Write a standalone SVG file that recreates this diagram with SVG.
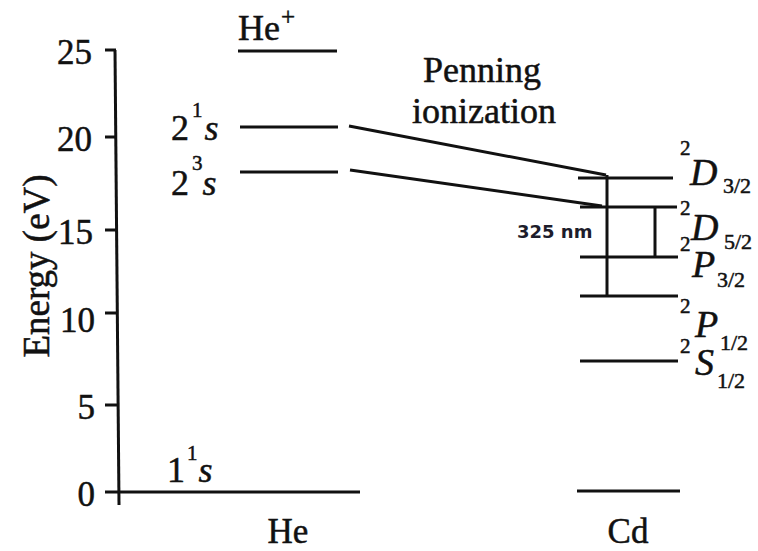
<svg xmlns="http://www.w3.org/2000/svg" width="758" height="551" viewBox="0 0 758 551">
<style>
.ln{stroke:#111;stroke-width:3;fill:none;stroke-linecap:butt}
.tx{font-family:'Liberation Serif','Times New Roman',Times,serif;fill:#111;stroke:#111;stroke-width:0.5}
.big{font-size:36px}
.cd{font-size:38px}
.it{font-style:italic}
.sup{font-size:21px}
.sub{font-size:22px}
.tick{font-size:35px;text-anchor:end}
.nm{font-family:'DejaVu Sans',sans-serif;font-size:18px;font-weight:bold;fill:#1d1d2b}
</style>
<rect width="758" height="551" fill="#fff"/>
<g id="axis">
<line class="ln" x1="115" y1="50" x2="119" y2="505"/>
<line class="ln" x1="105" y1="50" x2="116" y2="50"/>
<line class="ln" x1="105" y1="137" x2="116" y2="137"/>
<line class="ln" x1="105" y1="230" x2="117" y2="230"/>
<line class="ln" x1="105" y1="313" x2="117" y2="313"/>
<line class="ln" x1="105" y1="405" x2="118" y2="405"/>
<text class="tx tick" x="92" y="64">25</text>
<text class="tx tick" x="92" y="151">20</text>
<text class="tx tick" x="93" y="244">15</text>
<text class="tx tick" x="95" y="332">10</text>
<text class="tx tick" x="95" y="419">5</text>
<text class="tx tick" x="95" y="506">0</text>
<text class="tx" font-size="37" text-anchor="middle" transform="translate(49,266) rotate(-90)">Energy (eV)</text>
</g>
<g id="he-ground">
<line class="ln" x1="105" y1="492" x2="360" y2="492"/>
<text class="tx big" x="167" y="482">1<tspan class="sup" dx="2" dy="-22">1</tspan><tspan class="it" dx="1" dy="22">s</tspan></text>
</g>
<g id="he-ion">
<line class="ln" x1="238" y1="51" x2="337" y2="51"/>
<text class="tx big" x="238" y="40">He<tspan font-size="25" dx="1" dy="-15">+</tspan></text>
</g>
<g id="he-21s">
<line class="ln" x1="240" y1="127" x2="338" y2="127"/>
<text class="tx big" x="171" y="140">2<tspan class="sup" dx="3" dy="-23">1</tspan><tspan class="it" dx="2" dy="23">s</tspan></text>
</g>
<g id="he-23s">
<line class="ln" x1="240" y1="172" x2="338" y2="172"/>
<text class="tx big" x="171" y="195">2<tspan class="sup" dx="3" dy="-25">3</tspan><tspan class="it" dx="0" dy="25">s</tspan></text>
</g>
<g id="label-he">
<text class="tx" font-size="35" x="288" y="543" text-anchor="middle">He</text>
</g>
<g id="label-cd">
<text class="tx" font-size="35" x="628" y="543" text-anchor="middle">Cd</text>
</g>
<g id="penning">
<text class="tx big" x="482" y="82" text-anchor="middle">Penning</text>
<text class="tx big" x="484" y="123" text-anchor="middle">ionization</text>
</g>
<g id="cd-D32">
<line class="ln" x1="578" y1="178" x2="673" y2="178"/>
<text class="tx"><tspan class="sup" x="680" y="155">2</tspan><tspan class="cd it" x="690" y="185">D</tspan><tspan class="sub" x="723" y="193">3/2</tspan></text>
</g>
<g id="cd-D52">
<line class="ln" x1="580" y1="207" x2="677" y2="207"/>
<text class="tx"><tspan class="sup" x="680" y="215">2</tspan><tspan class="cd it" x="691" y="240">D</tspan><tspan class="sub" x="724" y="249">5/2</tspan></text>
</g>
<g id="cd-P32">
<line class="ln" x1="580" y1="257" x2="678" y2="257"/>
<text class="tx"><tspan class="sup" x="680" y="251">2</tspan><tspan class="cd it" x="692" y="277">P</tspan><tspan class="sub" x="717" y="287">3/2</tspan></text>
</g>
<g id="cd-P12">
<line class="ln" x1="580" y1="296" x2="678" y2="296"/>
<text class="tx"><tspan class="sup" x="680" y="313">2</tspan><tspan class="cd it" x="695" y="337">P</tspan><tspan class="sub" x="720" y="350">1/2</tspan></text>
</g>
<g id="cd-S12">
<line class="ln" x1="580" y1="361" x2="678" y2="361"/>
<text class="tx"><tspan class="sup" x="680" y="353">2</tspan><tspan class="cd it" x="695" y="375">S</tspan><tspan class="sub" x="717" y="388">1/2</tspan></text>
</g>
<g id="cd-ground">
<line class="ln" x1="577" y1="491" x2="680" y2="491"/>
</g>
<g id="connectors">
<line class="ln" x1="349" y1="126" x2="606" y2="175"/>
<line class="ln" x1="350" y1="170" x2="602" y2="206"/>
<line class="ln" x1="607" y1="175" x2="607" y2="297"/>
<line class="ln" x1="655" y1="207" x2="655" y2="257"/>
<text class="nm" x="517" y="238">325 nm</text>
</g>
</svg>
